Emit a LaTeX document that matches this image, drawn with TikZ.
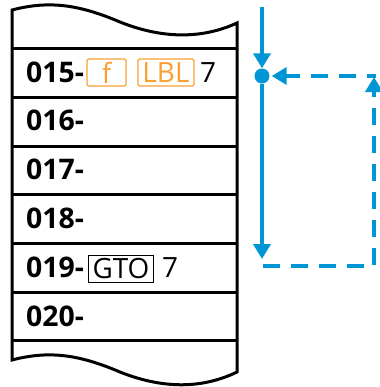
\documentclass[tikz,border=0pt]{standalone}
\usepackage{fontspec}
\setmainfont{Open Sans}
\usetikzlibrary{arrows.meta}
\definecolor{hpblue}{RGB}{0,150,214}
\definecolor{keyorange}{RGB}{248,160,52}
\tikzset{
  tape/.style={line width=3bp, line join=miter},
  rowtext/.style={anchor=base west, inner sep=0pt, font=\fontsize{28.5}{30}\selectfont\bfseries},
  keybox/.style={draw=keyorange, text=keyorange, line width=1.3bp, rounded corners=1.5bp,
    minimum height=27bp, inner sep=0pt, font=\fontsize{28}{30}\selectfont},
  blackkey/.style={draw=black, line width=1bp, minimum height=27bp, inner sep=0pt,
    font=\fontsize{28}{30}\selectfont},
  plaintext/.style={anchor=base west, inner sep=0pt, font=\fontsize{28}{30}\selectfont},
  flow/.style={hpblue, line width=4bp, -{Triangle[width=17bp,length=15bp]}},
  dashflow/.style={flow, dash pattern=on 17bp off 11bp},
}
\begin{document}
\begin{tikzpicture}[x=1bp,y=-1bp]
\useasboundingbox (0,0) rectangle (380,387);
% tape outline
\draw[tape] (12,10) .. controls (50,0) and (80,5) .. (120,22)
  .. controls (160,38) and (200,40) .. (237,23)
  -- (237,372)
  .. controls (200,390) and (160,388) .. (120,372)
  .. controls (80,355) and (50,350) .. (12,360) -- cycle;
% row lines
\foreach \y in {48,97,146,194.5,243,292,340}
  \draw[tape] (12,\y) -- (237,\y);
% row texts
\node[rowtext] (r15) at (26,82) {015-};
\node[rowtext] (r16) at (26,130.8) {016-};
\node[rowtext] (r17) at (26,179.6) {017-};
\node[rowtext] (r18) at (26,228.4) {018-};
\node[rowtext] (r19) at (26,277.2) {019-};
\node[rowtext] (r20) at (26,326) {020-};
% keys
\node[keybox, minimum width=39bp] (kf) at (106.5,72.5) {f};
\node[keybox, minimum width=56bp] (klbl) at (166,72.5) {LBL};
\node[plaintext] (n15) at (200,82) {7};
\node[blackkey, minimum width=64bp] (kgto) at (121,268.5) {GTO};
\node[plaintext] (n19) at (162,277.2) {7};
% flow arrows
\node[circle, fill=hpblue, minimum size=15bp, inner sep=0pt] (dot) at (262,76) {};
\coordinate (start) at (262,7);
\coordinate (down) at (262,259);
\coordinate (bl) at (263,266);
\coordinate (br) at (374,266);
\coordinate (tr) at (374,77);
\coordinate (trh) at (376,76);
\draw[flow] (start) -- (dot.north);
\draw[flow] (dot.south) -- (down);
\draw[dashflow] (bl) -- (br) -- (tr);
\draw[dashflow, dash phase=8bp] (trh) -- ([xshift=2bp]dot.east);
\end{tikzpicture}
\end{document}
